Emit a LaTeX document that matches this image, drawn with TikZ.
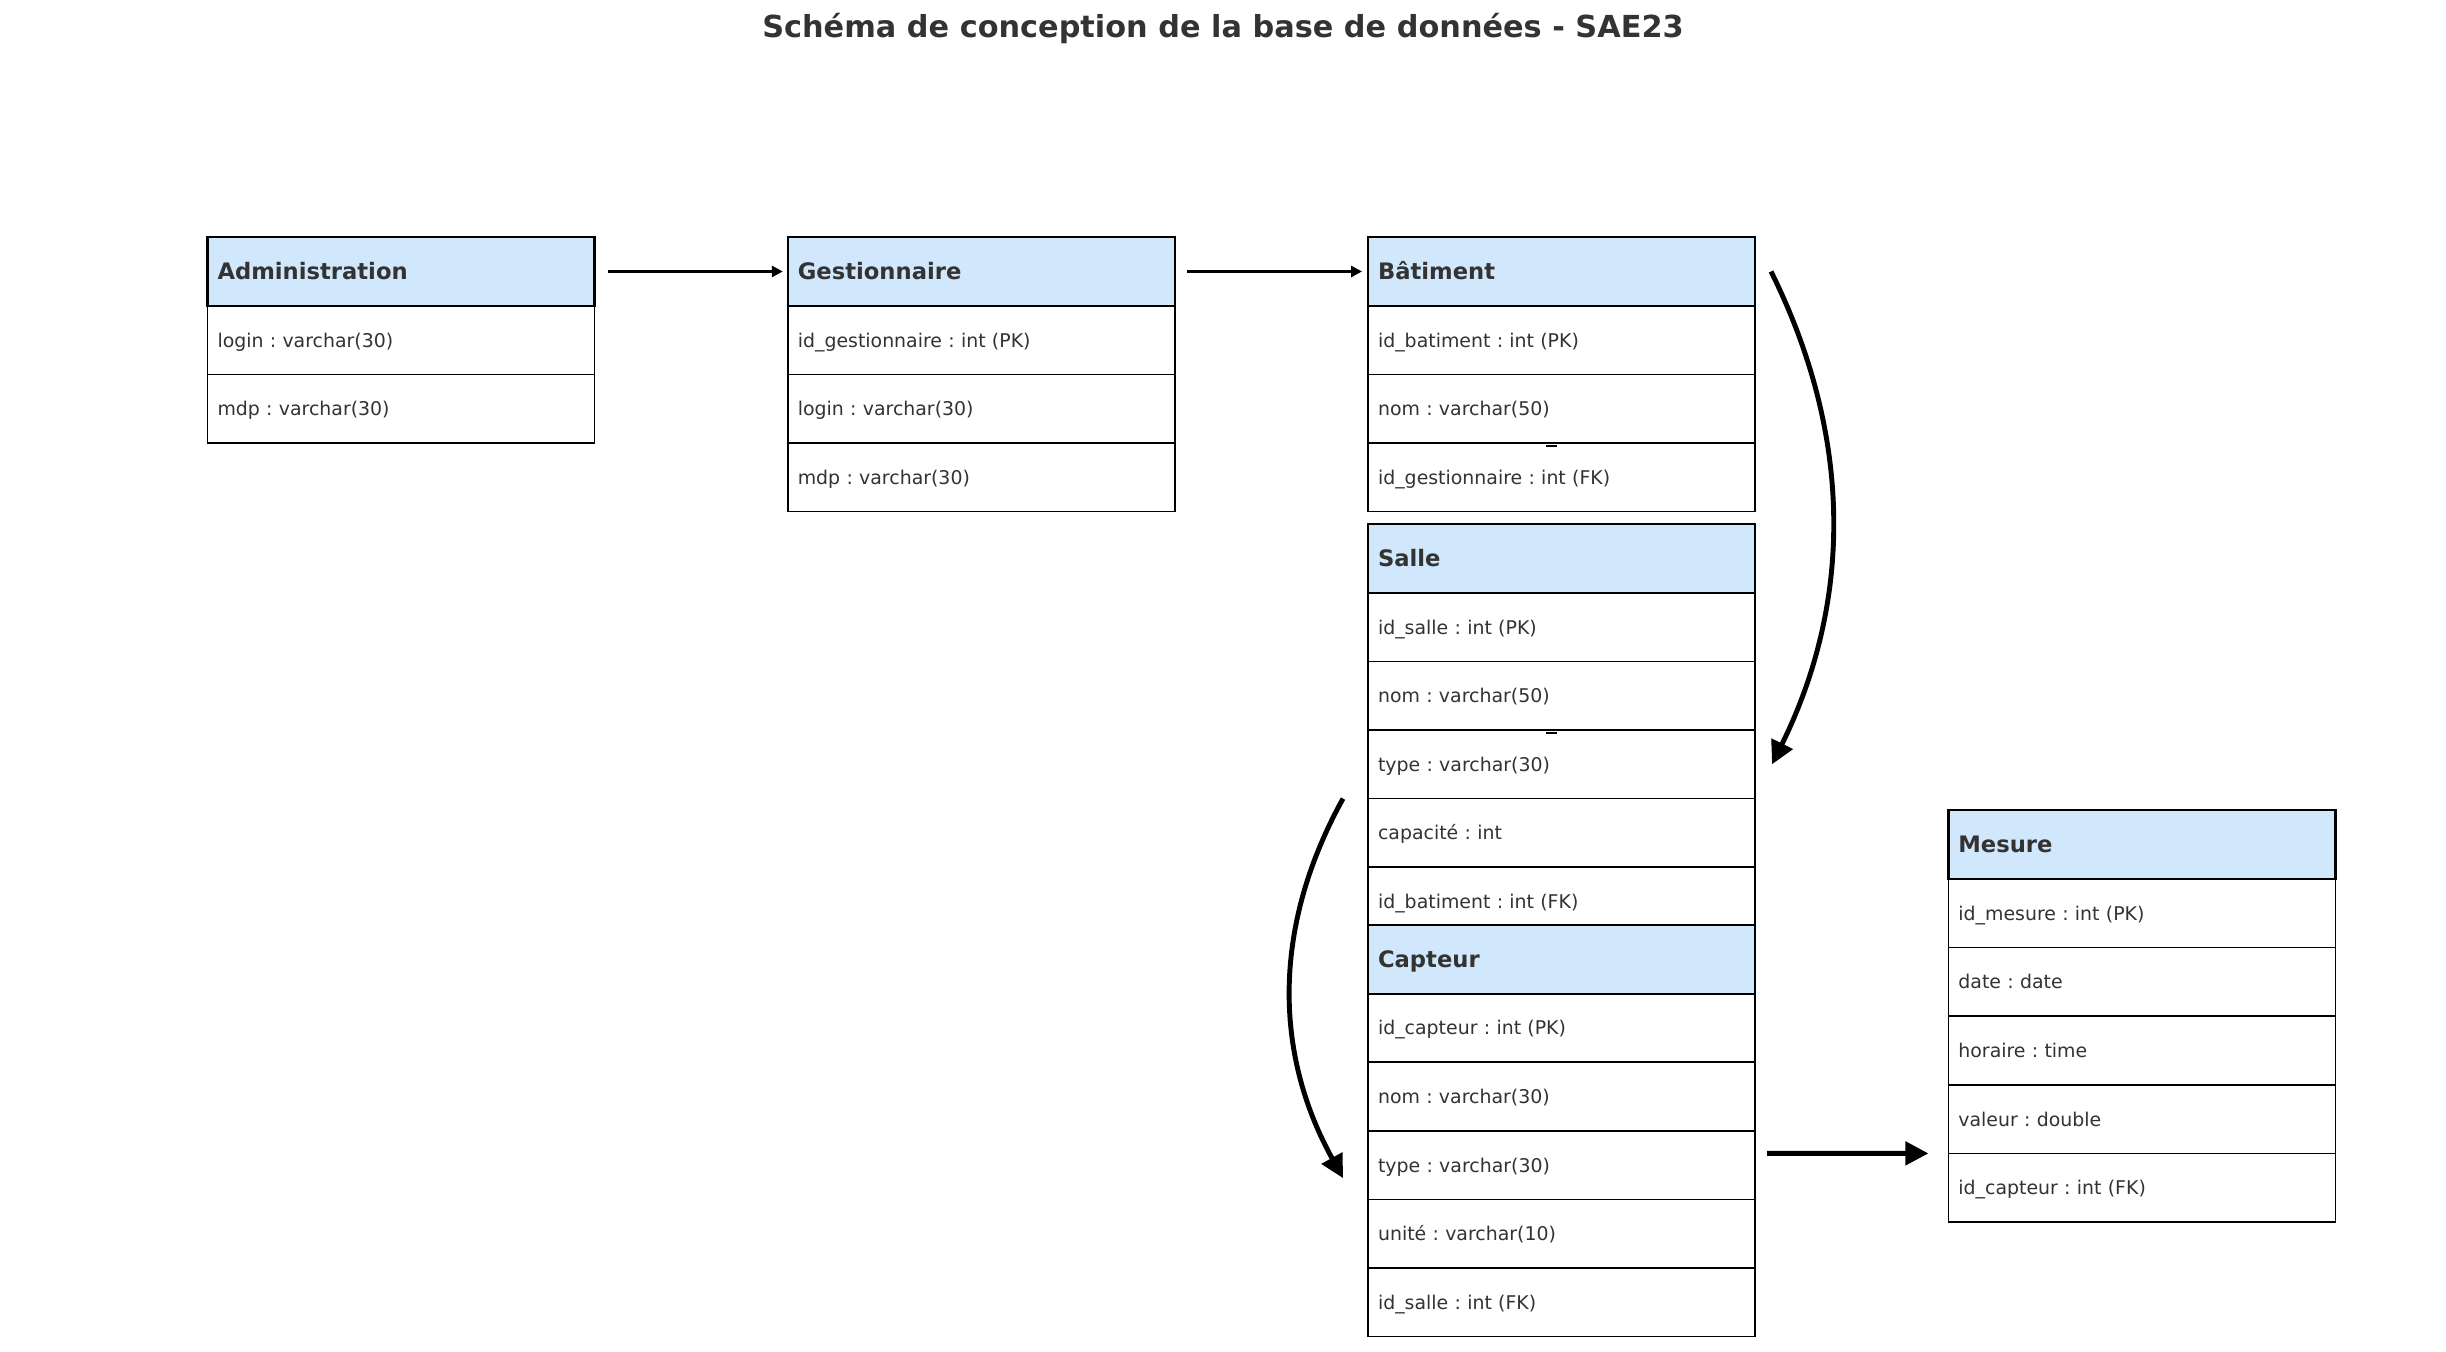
\documentclass[tikz,border=0pt]{standalone}
\usepackage{fontspec}
\setmainfont{DejaVu Sans}
\usepackage{tikz}
\usetikzlibrary{positioning}
\usetikzlibrary{arrows.meta}
\definecolor{bleuentete}{RGB}{209,231,252}
\definecolor{gristexte}{RGB}{51,51,51}
\frenchspacing

\begin{document}
\begin{tikzpicture}[champ/.style={rectangle,draw=black,line width=0.45pt,fill=white,outer sep=0pt,inner xsep=0.1cm,inner ysep=0pt,text width=3.67cm,minimum height=0.686cm,align=left,text height=0.186cm,text depth=0.046cm,text=gristexte,font=\fontsize{5.38}{6.5}\selectfont},
  entete/.style={champ,line width=0.62pt,fill=bleuentete,text height=0.2cm,text depth=0.045cm,font=\fontsize{6.45}{7.8}\selectfont\bfseries},
  fleche/.style={line width=1.4pt,-{Triangle[length=0.23cm,width=0.23cm]}},
  fleche fine/.style={line width=0.95pt,-{Triangle[length=0.11cm,width=0.11cm]}}]
  \useasboundingbox (0,0) rectangle (24.46,-13.52);
  \node[font=\fontsize{8.63}{10}\selectfont\bfseries,text=gristexte,anchor=base,inner sep=0pt] (titre) at (12.23,-0.38) {Schéma de conception de la base de données - SAE23};

  \node[champ,anchor=north west] (adm1) at (2.075,-3.058) {login : varchar(30)};
  \node[champ,below=0pt of adm1] (adm2) {mdp : varchar(30)};
  \node[entete,above=0pt of adm1] (adm) {Administration};

  \node[champ,anchor=north west] (gest1) at (7.878,-3.058) {id\_gestionnaire : int (PK)};
  \node[champ,below=0pt of gest1] (gest2) {login : varchar(30)};
  \node[champ,below=0pt of gest2] (gest3) {mdp : varchar(30)};
  \node[entete,above=0pt of gest1] (gest) {Gestionnaire};

  \node[champ,anchor=north west] (bat1) at (13.68,-3.058) {id\_batiment : int (PK)};
  \node[champ,below=0pt of bat1] (bat2) {nom : varchar(50)};
  \node[champ,below=0pt of bat2] (bat3) {id\_gestionnaire : int (FK)};
  \node[entete,above=0pt of bat1] (bat) {Bâtiment};

  \node[champ,anchor=north west] (sal1) at (13.68,-5.928) {id\_salle : int (PK)};
  \node[champ,below=0pt of sal1] (sal2) {nom : varchar(50)};
  \node[champ,below=0pt of sal2] (sal3) {type : varchar(30)};
  \node[champ,below=0pt of sal3] (sal4) {capacité : int};
  \node[champ,below=0pt of sal4] (sal5) {id\_batiment : int (FK)};
  \node[entete,above=0pt of sal1] (sal) {Salle};

  \node[champ,anchor=north west] (cap1) at (13.68,-9.936) {id\_capteur : int (PK)};
  \node[champ,below=0pt of cap1] (cap2) {nom : varchar(30)};
  \node[champ,below=0pt of cap2] (cap3) {type : varchar(30)};
  \node[champ,below=0pt of cap3] (cap4) {unité : varchar(10)};
  \node[champ,below=0pt of cap4] (cap5) {id\_salle : int (FK)};
  \node[entete,above=0pt of cap1] (cap) {Capteur};

  \node[champ,anchor=north west] (mes1) at (19.484,-8.79) {id\_mesure : int (PK)};
  \node[champ,below=0pt of mes1] (mes2) {date : date};
  \node[champ,below=0pt of mes2] (mes3) {horaire : time};
  \node[champ,below=0pt of mes3] (mes4) {valeur : double};
  \node[champ,below=0pt of mes4] (mes5) {id\_capteur : int (FK)};
  \node[entete,above=0pt of mes1] (mes) {Mesure};

  \draw[line width=0.45pt] ([shift={(-0.155,-0.03)}]bat2.south) -- ++(0.11,0);
  \draw[line width=0.45pt] ([shift={(-0.155,-0.03)}]sal2.south) -- ++(0.11,0);

  \draw[fleche fine,shorten <=0.13cm,shorten >=0.05cm] (adm.east) -- (gest.west);
  \draw[fleche fine,shorten <=0.12cm,shorten >=0.06cm] (gest.east) -- (bat.west);
  \draw[fleche] ([xshift=0.16cm]bat.east) .. controls +(0.816,-1.643) and +(0.81,1.643) .. ([xshift=0.17cm]sal3.east);
  \draw[fleche] ([xshift=-0.25cm]sal3.south west) .. controls +(-0.70,-1.267) and +(-0.70,1.267) .. ([shift={(-0.25,-0.13)}]cap3.west);
  \draw[fleche] ([shift={(0.12,0.118)}]cap3.east) -- ([xshift=-0.2cm]mes5.north west);

\end{tikzpicture}
\end{document}
